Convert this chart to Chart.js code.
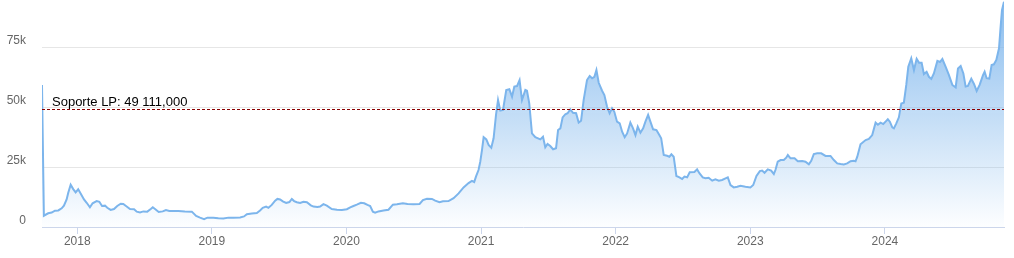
<!DOCTYPE html>
<html>
<head>
<meta charset="utf-8">
<script src="https://cdn.jsdelivr.net/npm/chart.js@4"></script>
<style>
  html, body { margin: 0; padding: 0; background: #fff; }
  canvas { display: block; }
</style>
</head>
<body>
<canvas id="chartPrice" width="1014" height="258"></canvas>
<script>
// weekly closes (x in decimal years, y in thousands)
const dates = [
  2017.738, 2017.752, 2017.784, 2017.810, 2017.834, 2017.859, 2017.884, 2017.901, 2017.921, 2017.933,
  2017.951, 2017.970, 2017.988, 2018.007, 2018.025, 2018.050, 2018.070, 2018.094, 2018.114, 2018.144,
  2018.164, 2018.184, 2018.206, 2018.223, 2018.248, 2018.273, 2018.297, 2018.323, 2018.342, 2018.362,
  2018.392, 2018.422, 2018.442, 2018.466, 2018.491, 2018.520, 2018.546, 2018.561, 2018.580, 2018.605,
  2018.635, 2018.659, 2018.684, 2018.714, 2018.751, 2018.799, 2018.851, 2018.883, 2018.912, 2018.942,
  2018.967, 2019.011, 2019.048, 2019.086, 2019.123, 2019.160, 2019.210, 2019.239, 2019.260, 2019.297,
  2019.334, 2019.358, 2019.378, 2019.403, 2019.420, 2019.445, 2019.470, 2019.487, 2019.507, 2019.527,
  2019.552, 2019.576, 2019.594, 2019.611, 2019.631, 2019.656, 2019.680, 2019.706, 2019.735, 2019.755,
  2019.784, 2019.804, 2019.829, 2019.854, 2019.891, 2019.929, 2019.966, 2020.003, 2020.028, 2020.052,
  2020.077, 2020.107, 2020.132, 2020.156, 2020.176, 2020.196, 2020.213, 2020.238, 2020.275, 2020.312,
  2020.345, 2020.375, 2020.419, 2020.454, 2020.498, 2020.543, 2020.568, 2020.598, 2020.635, 2020.659,
  2020.691, 2020.717, 2020.758, 2020.796, 2020.833, 2020.870, 2020.907, 2020.932, 2020.949, 2020.962,
  2020.981, 2020.994, 2021.007, 2021.019, 2021.039, 2021.056, 2021.076, 2021.093, 2021.111, 2021.126,
  2021.143, 2021.163, 2021.187, 2021.210, 2021.230, 2021.247, 2021.267, 2021.286, 2021.304, 2021.329,
  2021.341, 2021.358, 2021.378, 2021.403, 2021.440, 2021.460, 2021.477, 2021.494, 2021.514, 2021.535,
  2021.557, 2021.572, 2021.589, 2021.606, 2021.626, 2021.643, 2021.663, 2021.683, 2021.706, 2021.725,
  2021.743, 2021.762, 2021.787, 2021.807, 2021.825, 2021.842, 2021.857, 2021.874, 2021.899, 2021.916,
  2021.936, 2021.955, 2021.973, 2021.990, 2022.010, 2022.030, 2022.048, 2022.067, 2022.085, 2022.109,
  2022.129, 2022.147, 2022.164, 2022.184, 2022.204, 2022.221, 2022.241, 2022.258, 2022.278, 2022.303,
  2022.320, 2022.338, 2022.357, 2022.382, 2022.399, 2022.414, 2022.431, 2022.451, 2022.474, 2022.494,
  2022.511, 2022.531, 2022.550, 2022.585, 2022.605, 2022.622, 2022.647, 2022.667, 2022.691, 2022.717,
  2022.741, 2022.766, 2022.791, 2022.816, 2022.833, 2022.853, 2022.877, 2022.903, 2022.927, 2022.964,
  2023.001, 2023.022, 2023.046, 2023.071, 2023.088, 2023.106, 2023.130, 2023.155, 2023.175, 2023.187,
  2023.204, 2023.225, 2023.249, 2023.267, 2023.279, 2023.299, 2023.329, 2023.353, 2023.386, 2023.410,
  2023.435, 2023.453, 2023.472, 2023.497, 2023.527, 2023.559, 2023.596, 2023.621, 2023.646, 2023.671,
  2023.695, 2023.720, 2023.745, 2023.770, 2023.782, 2023.795, 2023.819, 2023.857, 2023.881, 2023.906,
  2023.931, 2023.948, 2023.968, 2023.988, 2024.005, 2024.022, 2024.037, 2024.055, 2024.067, 2024.085,
  2024.104, 2024.122, 2024.141, 2024.159, 2024.174, 2024.196, 2024.216, 2024.236, 2024.253, 2024.273,
  2024.290, 2024.310, 2024.327, 2024.345, 2024.364, 2024.390, 2024.409, 2024.427, 2024.451, 2024.476,
  2024.501, 2024.526, 2024.543, 2024.563, 2024.583, 2024.600, 2024.617, 2024.642, 2024.662, 2024.682,
  2024.704, 2024.729, 2024.741, 2024.756, 2024.776, 2024.793, 2024.810, 2024.828, 2024.848, 2024.860,
  2024.870, 2024.885
];

const prices = [
  59.2, 4.7, 5.7, 6.0, 6.8, 6.9, 7.8, 8.9, 11.5, 14.3,
  17.6, 15.8, 14.4, 15.7, 14.0, 11.5, 10.1, 8.2, 9.9, 10.8,
  10.5, 8.75, 8.9, 8.0, 7.1, 7.5, 8.75, 9.7, 9.6, 8.75,
  7.5, 7.4, 6.4, 6.1, 6.5, 6.4, 7.5, 8.2, 7.4, 6.25,
  6.5, 7.1, 6.7, 6.7, 6.7, 6.5, 6.4, 4.6, 3.9, 3.3,
  3.9, 3.9, 3.6, 3.5, 3.9, 3.9, 4.0, 4.4, 5.3, 5.6,
  5.8, 6.9, 8.0, 8.5, 8.0, 9.2, 11.0, 11.7, 11.5, 10.7,
  10.0, 10.4, 11.7, 10.8, 10.3, 10.0, 10.5, 10.3, 9.0, 8.5,
  8.3, 8.5, 9.5, 8.9, 7.5, 7.2, 7.1, 7.4, 8.2, 8.75,
  9.3, 10.1, 9.9, 9.2, 8.75, 6.4, 6.0, 6.5, 6.9, 7.2,
  9.3, 9.5, 9.9, 9.6, 9.5, 9.6, 11.25, 11.8, 11.7, 11.0,
  10.3, 10.7, 10.8, 12.0, 14.0, 16.5, 18.3, 19.2, 18.75, 21.0,
  23.75, 27.2, 32.1, 37.4, 36.5, 34.2, 33.0, 36.95, 46.7, 52.9,
  48.5, 48.75, 57.1, 57.4, 54.3, 58.5, 58.75, 61.25, 52.9, 57.1,
  56.8, 51.5, 39.0, 37.4, 36.5, 37.6, 33.2, 34.6, 33.75, 32.4,
  32.8, 40.4, 41.1, 45.7, 47.0, 47.4, 49.0, 47.6, 47.4, 43.5,
  44.3, 52.9, 61.25, 62.9, 62.0, 62.6, 65.4, 60.1, 56.8, 55.0,
  50.1, 47.4, 49.5, 48.0, 43.9, 43.2, 39.7, 37.4, 39.0, 43.5,
  41.1, 38.3, 41.8, 39.3, 41.1, 43.9, 46.7, 43.9, 40.7, 40.4,
  38.75, 37.0, 30.0, 29.7, 29.3, 30.3, 29.3, 21.25, 20.7, 20.0,
  21.0, 20.7, 22.8, 22.9, 24.0, 22.4, 20.7, 20.3, 20.5, 19.3,
  19.9, 19.3, 19.6, 20.3, 20.7, 17.5, 16.5, 16.8, 17.2, 16.8,
  16.5, 17.5, 21.25, 23.3, 23.5, 22.6, 24.0, 23.5, 22.1, 23.75,
  27.2, 27.9, 27.9, 28.9, 30.0, 28.6, 28.6, 27.4, 27.5, 27.2,
  26.1, 27.6, 30.4, 30.7, 30.7, 29.6, 29.6, 27.9, 26.5, 26.25,
  26.1, 26.5, 27.4, 27.6, 27.4, 29.3, 34.5, 36.25, 36.7, 38.3,
  43.5, 42.6, 43.5, 42.9, 43.9, 44.9, 43.9, 41.5, 41.1, 43.2,
  45.7, 51.5, 51.8, 59.2, 66.8, 70.3, 65.4, 70.1, 68.5, 68.5,
  63.75, 64.7, 62.6, 61.7, 64.0, 69.2, 68.75, 70.0, 66.8, 63.3,
  59.2, 58.2, 66.1, 67.1, 64.0, 58.5, 58.75, 61.8, 59.6, 56.7,
  59.2, 63.3, 64.7, 62.0, 61.8, 67.5, 67.8, 69.6, 74.5, 83.5,
  90.4, 93.9
];

const yTicks = [0, 25, 50, 75];
const yearTicks = [2018, 2019, 2020, 2021, 2022, 2023, 2024];
const support = { label: 'Soporte LP: 49 111,000', value: 49.111 };

const colors = {
  line: '#7cb5ec',
  grid: '#e6e6e6',
  axis: '#ccd6eb',
  text: '#666666',
  support: '#8b0000'
};

const supportLine = {
  id: 'supportLine',
  afterDatasetsDraw(chart) {
    const { ctx, chartArea, scales } = chart;
    const y = Math.round(scales.y.getPixelForValue(support.value)) + 0.5;
    ctx.save();
    ctx.strokeStyle = colors.support;
    ctx.lineWidth = 1;
    ctx.setLineDash([3, 2]);
    ctx.beginPath();
    ctx.moveTo(chartArea.left, y);
    ctx.lineTo(chartArea.right, y);
    ctx.stroke();
    ctx.setLineDash([]);
    ctx.fillStyle = '#000';
    ctx.font = '13px "Liberation Sans", Arial, sans-serif';
    ctx.textBaseline = 'alphabetic';
    ctx.fillText(support.label, chartArea.left + 10, y - 3.5);
    ctx.restore();
  }
};

const ctx = document.getElementById('chartPrice').getContext('2d');
const chartPrice = new Chart(ctx, {
  type: 'line',
  data: {
    datasets: [{
      data: dates.map((d, i) => ({ x: d, y: prices[i] })),
      borderColor: colors.line,
      borderWidth: 2,
      pointRadius: 0,
      tension: 0,
      fill: 'origin',
      backgroundColor: (context) => {
        const area = context.chart.chartArea;
        if (!area) return 'rgba(124,181,236,0.4)';
        const g = context.chart.ctx.createLinearGradient(0, area.top, 0, area.bottom);
        g.addColorStop(0, 'rgba(124,181,236,0.9)');
        g.addColorStop(1, 'rgba(124,181,236,0.02)');
        return g;
      }
    }]
  },
  options: {
    responsive: false,
    animation: false,
    layout: { padding: { left: 0, right: 10, top: 0, bottom: 0 } },
    plugins: { legend: { display: false }, tooltip: { enabled: false } },
    scales: {
      x: {
        type: 'linear',
        min: dates[0],
        max: dates[dates.length - 1],
        afterBuildTicks: (scale) => { scale.ticks = yearTicks.map(v => ({ value: v })); },
        afterFit: (scale) => { scale.height = 31; scale.paddingLeft = 0; scale.paddingRight = 0; },
        ticks: {
          autoSkip: false,
          maxRotation: 0,
          padding: 0,
          color: colors.text,
          font: { family: '"Liberation Sans", Arial, sans-serif', size: 12 },
          callback: (v) => String(v)
        },
        grid: { drawOnChartArea: false, color: colors.axis, tickLength: 7 },
        border: { color: colors.axis }
      },
      y: {
        min: 0,
        max: 94.6,
        afterBuildTicks: (scale) => { scale.ticks = yTicks.map(v => ({ value: v })); },
        afterFit: (scale) => { scale.width = 42; scale.paddingTop = 0; scale.paddingBottom = 0; },
        ticks: {
          padding: 16,
          labelOffset: -6,
          color: colors.text,
          font: { family: '"Liberation Sans", Arial, sans-serif', size: 12 },
          callback: (v) => v === 0 ? '0' : v + 'k'
        },
        grid: {
          drawTicks: false,
          color: (c) => c.tick && c.tick.value === 0 ? 'rgba(0,0,0,0)' : colors.grid
        },
        border: { display: false }
      }
    }
  },
  plugins: [supportLine]
});
</script>
</body>
</html>
